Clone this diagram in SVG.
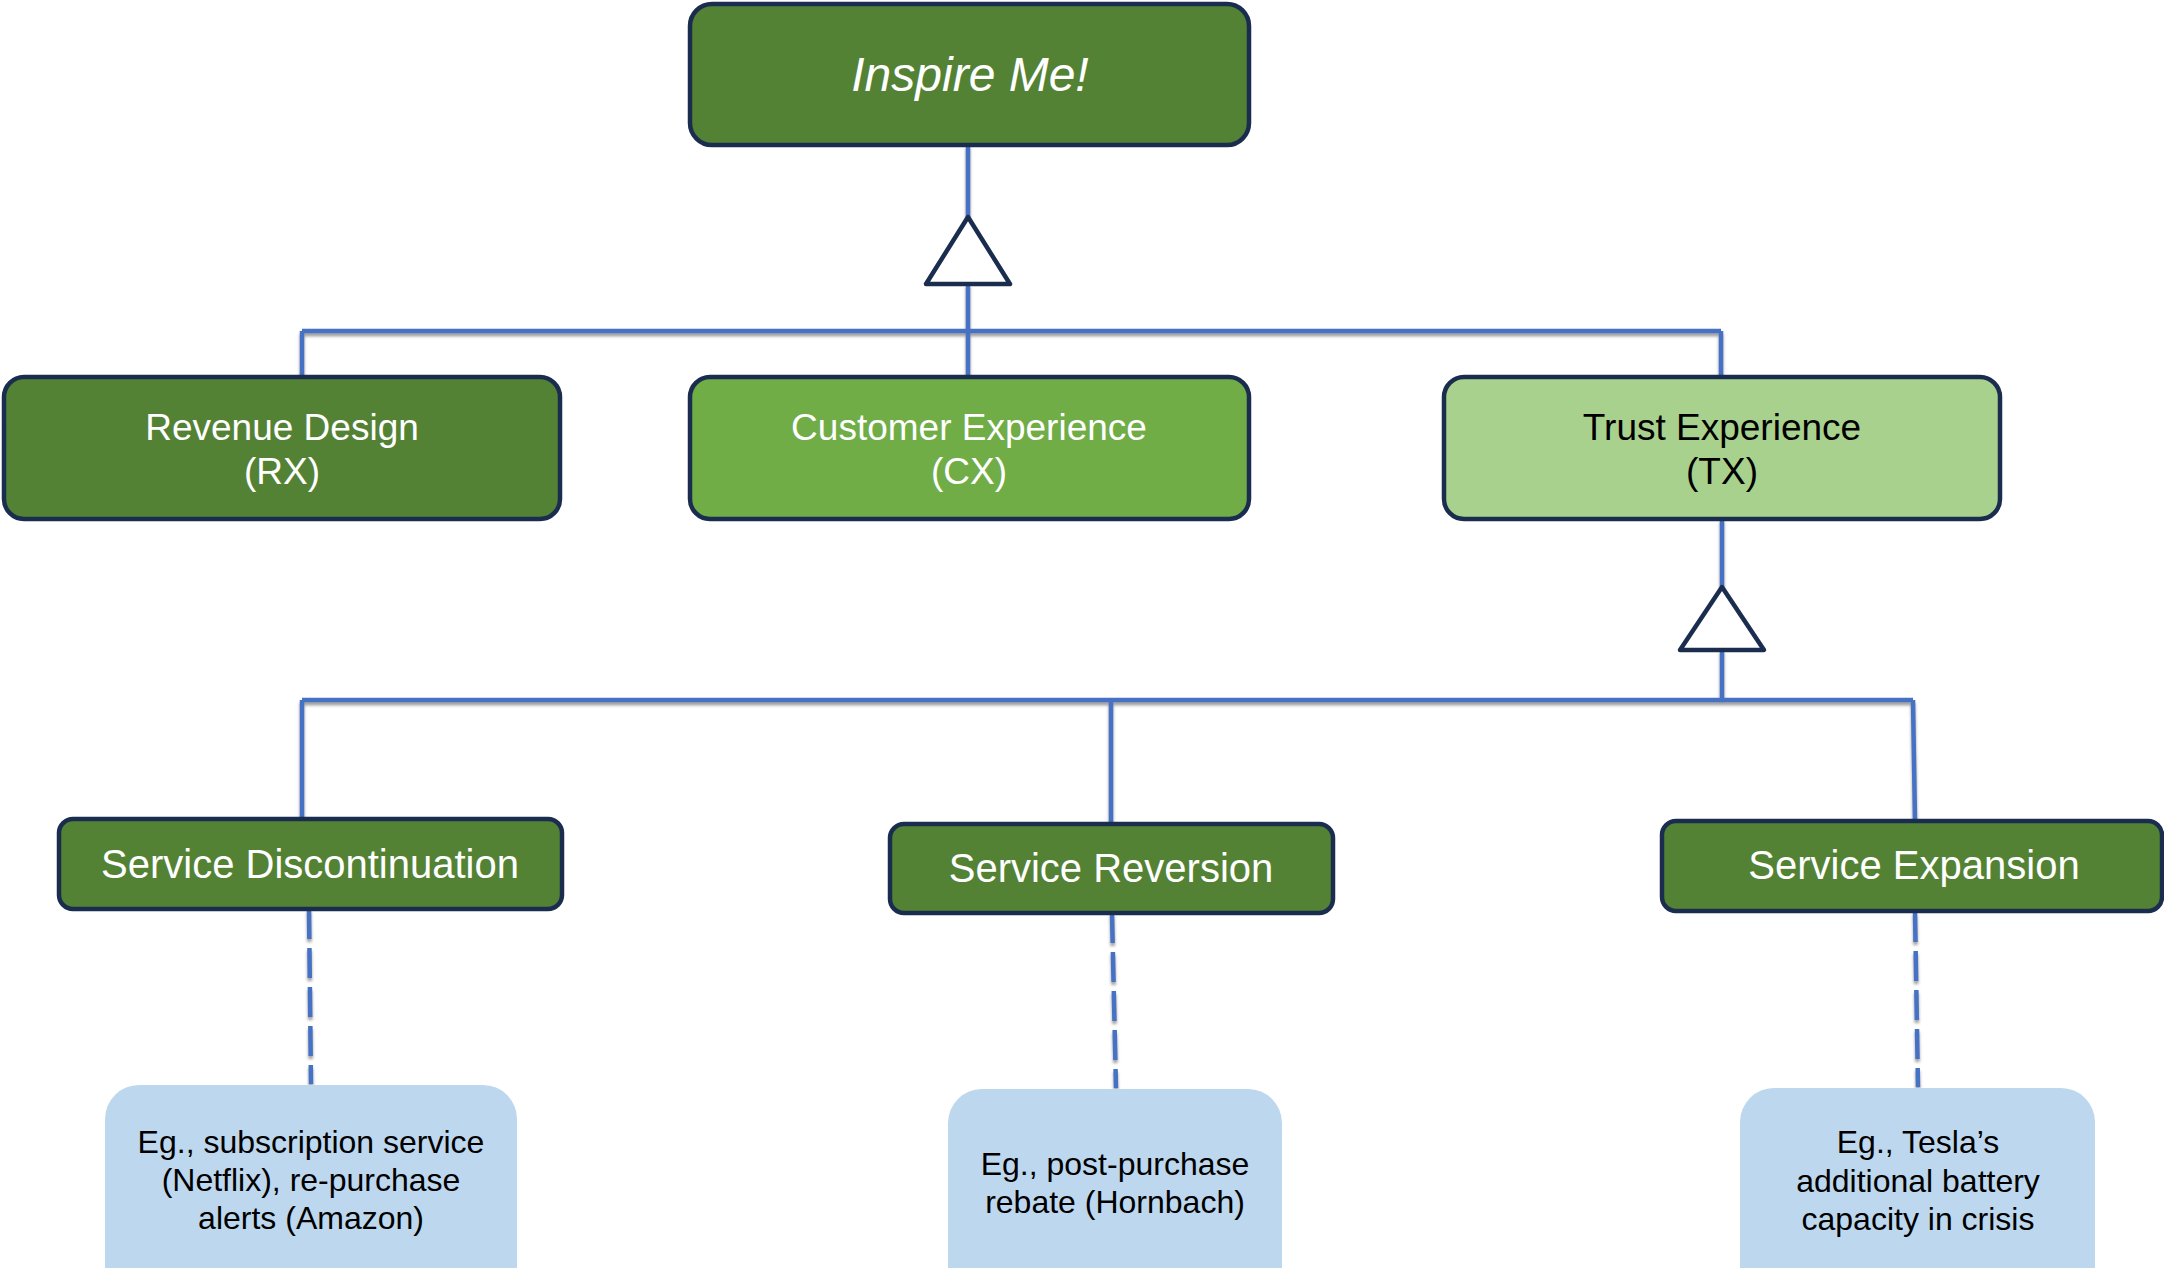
<svg xmlns="http://www.w3.org/2000/svg" width="2164" height="1268" viewBox="0 0 2164 1268">
<defs>
<style>
.box{stroke:#1B2D4F;stroke-width:4.5}
.dk{fill:#548235}
.md{fill:#70AD47}
.lt{fill:#A9D18E}
.ex{fill:#BDD7EE;stroke:none}
.t{font-family:"Liberation Sans",Arial,sans-serif;text-anchor:middle}
.w{fill:#FFFFFF}
.b{fill:#000000}
.ln{stroke:#4472C4;stroke-width:4.5;fill:none}
.dash{stroke:#4472C4;stroke-width:4.5;fill:none;stroke-dasharray:30 9}
.tri{fill:#FFFFFF;stroke:#1B2D4F;stroke-width:4.5;stroke-linejoin:round}
</style>
<filter id="sh" x="-50%" y="-10%" width="200%" height="120%">
<feDropShadow dx="0" dy="3" stdDeviation="1.5" flood-color="#808080" flood-opacity="0.8"/>
</filter>
</defs>
<rect width="2164" height="1268" fill="#FFFFFF"/>

<g id="connectors">
<g filter="url(#sh)">
<line class="ln" x1="968" y1="145" x2="968" y2="217"/>
<line class="ln" x1="968" y1="284" x2="968" y2="377"/>
<line class="ln" x1="302" y1="331" x2="1721" y2="331"/>
<line class="ln" x1="302" y1="331" x2="302" y2="377"/>
<line class="ln" x1="1721" y1="331" x2="1721" y2="377"/>
<line class="ln" x1="1722" y1="519" x2="1722" y2="587"/>
<line class="ln" x1="1722" y1="650" x2="1722" y2="700"/>
<line class="ln" x1="302" y1="700" x2="1913" y2="700"/>
<line class="ln" x1="302" y1="700" x2="302" y2="820"/>
<line class="ln" x1="1111" y1="700" x2="1111" y2="824"/>
<line class="ln" x1="1913" y1="700" x2="1915" y2="821"/>
<line class="dash" x1="309" y1="909" x2="311" y2="1084"/>
<line class="dash" x1="1112" y1="913" x2="1116" y2="1088"/>
<line class="dash" x1="1915" y1="912" x2="1918" y2="1087"/>
</g>
<polygon class="tri" points="968,217 1010,284 926,284"/>
<polygon class="tri" points="1722,587 1764,650 1680,650"/>
</g>

<g id="inspire">
<rect class="box dk" x="690" y="4" width="559" height="141" rx="22"/>
<text class="t w" x="970" y="91" font-size="48" font-style="italic">Inspire Me!</text>
</g>

<g id="rx">
<rect class="box dk" x="4" y="377" width="556" height="142" rx="20"/>
<text class="t w" x="282" y="440" font-size="37">Revenue Design</text>
<text class="t w" x="282" y="484" font-size="37">(RX)</text>
</g>

<g id="cx">
<rect class="box md" x="690" y="377" width="559" height="142" rx="20"/>
<text class="t w" x="969" y="440" font-size="37">Customer Experience</text>
<text class="t w" x="969" y="484" font-size="37">(CX)</text>
</g>

<g id="tx">
<rect class="box lt" x="1444" y="377" width="556" height="142" rx="20"/>
<text class="t b" x="1722" y="440" font-size="37">Trust Experience</text>
<text class="t b" x="1722" y="484" font-size="37">(TX)</text>
</g>

<g id="discontinuation">
<rect class="box dk" x="59" y="819" width="503" height="90" rx="14"/>
<text class="t w" x="310" y="878" font-size="40">Service Discontinuation</text>
</g>

<g id="reversion">
<rect class="box dk" x="890" y="824" width="443" height="89" rx="14"/>
<text class="t w" x="1111" y="882" font-size="40">Service Reversion</text>
</g>

<g id="expansion">
<rect class="box dk" x="1662" y="821" width="500" height="90" rx="14"/>
<text class="t w" x="1914" y="879" font-size="40">Service Expansion</text>
</g>

<g id="ex-discontinuation">
<rect class="ex" x="105" y="1085" width="412" height="220" rx="34"/>
<text class="t b" x="311" y="1153" font-size="32">Eg., subscription service</text>
<text class="t b" x="311" y="1191" font-size="32">(Netflix), re-purchase</text>
<text class="t b" x="311" y="1229" font-size="32">alerts (Amazon)</text>
</g>

<g id="ex-reversion">
<rect class="ex" x="948" y="1089" width="334" height="220" rx="34"/>
<text class="t b" x="1115" y="1175" font-size="32">Eg., post-purchase</text>
<text class="t b" x="1115" y="1213" font-size="32">rebate (Hornbach)</text>
</g>

<g id="ex-expansion">
<rect class="ex" x="1740" y="1088" width="355" height="220" rx="34"/>
<text class="t b" x="1918" y="1153" font-size="32">Eg., Tesla’s</text>
<text class="t b" x="1918" y="1192" font-size="32">additional battery</text>
<text class="t b" x="1918" y="1230" font-size="32">capacity in crisis</text>
</g>
</svg>
